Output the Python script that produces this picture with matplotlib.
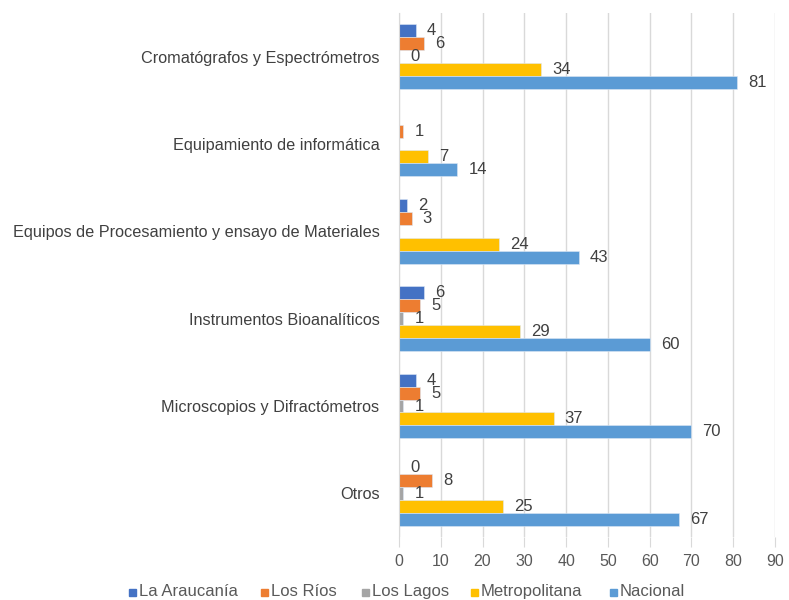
import numpy as np
import matplotlib
matplotlib.use("Agg")
import matplotlib.pyplot as plt
from matplotlib.patches import Rectangle

plt.rcParams['font.family'] = ['Liberation Sans', 'DejaVu Sans']

categories = [
    "Cromatógrafos y Espectrómetros",
    "Equipamiento de informática",
    "Equipos de Procesamiento y ensayo de Materiales",
    "Instrumentos Bioanalíticos",
    "Microscopios y Difractómetros",
    "Otros",
]
series_names = ["La Araucanía", "Los Ríos", "Los Lagos", "Metropolitana", "Nacional"]
araucania = [4, np.nan, 2, 6, 4, 0]
los_rios = [6, 1, 3, 5, 5, 8]
los_lagos = [0, np.nan, np.nan, 1, 1, 1]
metropolitana = [34, 7, 24, 29, 37, 25]
nacional = [81, 14, 43, 60, 70, 67]
series_values = [araucania, los_rios, los_lagos, metropolitana, nacional]
colors = ["#4472C4", "#ED7D31", "#A5A5A5", "#FFC000", "#5B9BD5"]

W, H = 789, 600
fig = plt.figure(figsize=(W / 100, H / 100), dpi=100)
ax = fig.add_axes([399/W, 1-537/H, (775-399)/W, (537-13)/H])

n = len(categories)
y = np.arange(n)
h = 0.148
for i, (name, vals, c) in enumerate(zip(series_names, series_values, colors)):
    pos = y + (i - 2) * h
    vals = np.array(vals, dtype=float)
    ax.barh(pos, np.nan_to_num(vals), height=h, color=c, label=name,
            edgecolor='#dde8f5', linewidth=0.4)
    for p, v in zip(pos, vals):
        if not np.isnan(v):
            ax.annotate(f"{int(v)}", xy=(v, p), xytext=(8, 0), textcoords='offset points',
                        va='center', ha='left', fontsize=12, color='#404040')

ax.set_ylim(n - 0.5, -0.5)
ax.set_xlim(0, 90)
ax.set_xticks(np.arange(0, 91, 10))
ax.set_yticks(y)
ax.set_yticklabels(categories, fontsize=11.7, color='#404040')
ax.tick_params(axis='y', length=0, pad=14)
ax.tick_params(axis='x', length=7, color='#D9D9D9', labelsize=11.5, labelcolor='#595959', pad=5)
ax.grid(axis='x', color='#D9D9D9', linewidth=1)
ax.set_axisbelow(True)
for s in ['top', 'right', 'bottom']:
    ax.spines[s].set_visible(False)
ax.spines['left'].set_color('#D9D9D9')

# legend (manual, baseline-aligned)
marker_x = [129, 261, 362, 471, 610]
baseline = 596
msz = 7
for mx, name, c in zip(marker_x, series_names, colors):
    fig.patches.append(Rectangle((mx / W, 1 - baseline / H), msz / W, msz / H,
                                 transform=fig.transFigure, color=c, figure=fig))
    fig.text((mx + msz + 3) / W, 1 - baseline / H, name, fontsize=12,
             color='#595959', ha='left', va='baseline')

fig.savefig("out.png", dpi=100)
